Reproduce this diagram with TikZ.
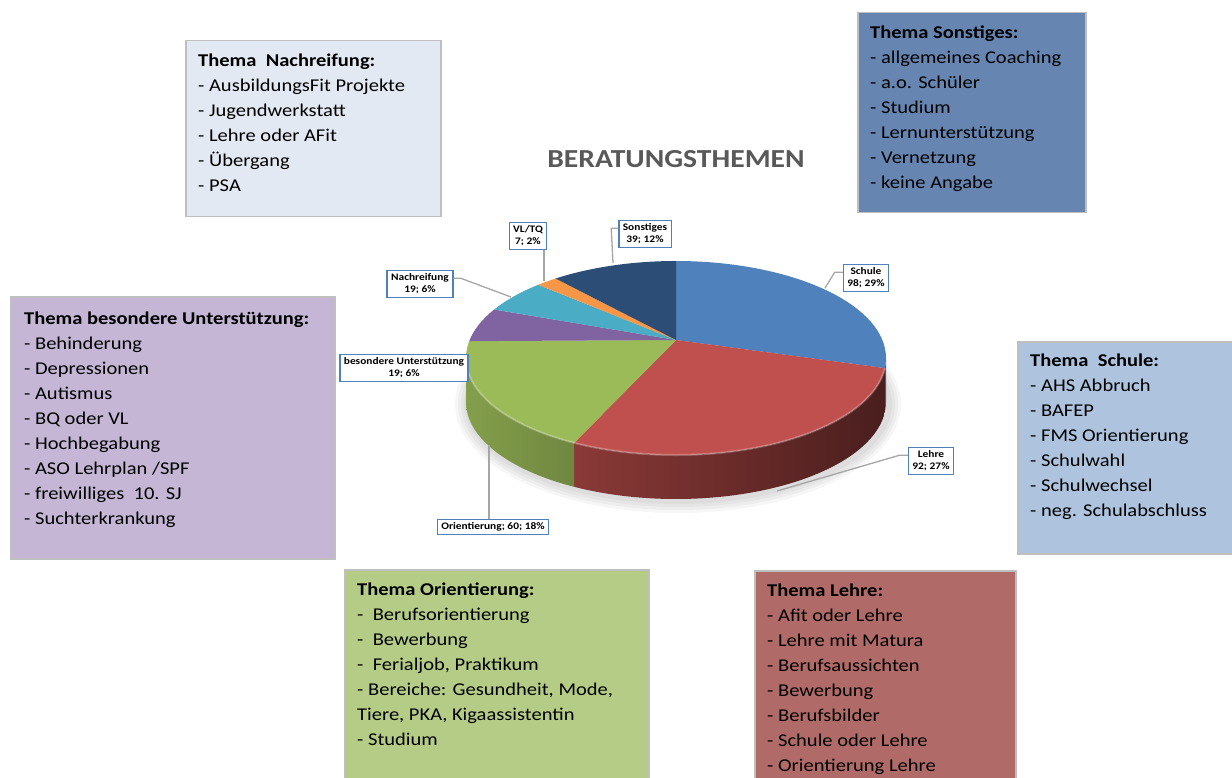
\documentclass[tikz,border=0pt]{standalone}
\usepackage{fontspec}
\setmainfont{Carlito}[FakeStretch=1.14]
\definecolor{pieschule}{HTML}{4F81BD}
\definecolor{pielehre}{HTML}{C0504D}
\definecolor{pieorient}{HTML}{9BBB59}
\definecolor{piebes}{HTML}{8064A2}
\definecolor{pienach}{HTML}{4BACC6}
\definecolor{pievl}{HTML}{F79646}
\definecolor{piesonst}{HTML}{2C4D75}
\definecolor{lblblue}{HTML}{4F81BD}
\definecolor{leadgray}{HTML}{A6A6A6}
\definecolor{boxgray}{HTML}{BFBFBF}
\definecolor{titlegray}{HTML}{595959}
\definecolor{nachfill}{HTML}{E3E9F3}
\definecolor{sonstfill}{HTML}{6685B1}
\definecolor{besfill}{HTML}{C4B6D4}
\definecolor{schulefill}{HTML}{AEC4DE}
\definecolor{orientfill}{HTML}{B5CC87}
\definecolor{lehrefill}{HTML}{B06B68}
\begin{document}
\begin{tikzpicture}[x=1pt,y=1pt,
    themebox/.style={draw=boxgray,line width=1.5pt,anchor=north west,inner sep=0pt},
    themetext/.style={anchor=north west,inner sep=0pt,align=left,font=\fontsize{18}{25}\selectfont},
    lbl/.style={draw=lblblue,fill=white,line width=1.3pt,align=center,inner xsep=4pt,inner ysep=3pt,
      font=\fontsize{10}{12}\selectfont\bfseries},
    leader/.style={draw=leadgray,line width=1.3pt}]
\useasboundingbox (0,0) rectangle (1232,-778);
% title
\node[font=\fontsize{26}{28}\selectfont\bfseries,text=titlegray] (title) at (676,-159) {BERATUNGSTHEMEN};
% shadow under the pie
\foreach \o in {0,3,6,9}
  \fill[black,opacity=0.035] (678,-404) ellipse [x radius={214pt+\o pt}, y radius={100pt+\o pt}];
% side of the pie
\fill[pieschule!75!black] ([shift={(676,-358)}]0:210pt and 97pt) arc[start angle=0,end angle=-6,x radius=210pt,y radius=97pt]
  -- ++(0,-44) arc[start angle=-6,end angle=0,x radius=210pt,y radius=97pt] -- cycle;
\shade[left color=pielehre!72!black,right color=pielehre!38!black] ([shift={(676,-358)}]-6:210pt and 97pt)
  arc[start angle=-6,end angle=-119,x radius=210pt,y radius=97pt]
  -- ++(0,-44) arc[start angle=-119,end angle=-6,x radius=210pt,y radius=97pt] -- cycle;
\shade[left color=pieorient!85!black,right color=pieorient!72!black] ([shift={(676,-358)}]-119:210pt and 97pt)
  arc[start angle=-119,end angle=-180,x radius=210pt,y radius=97pt]
  -- ++(0,-44) arc[start angle=-180,end angle=-119,x radius=210pt,y radius=97pt] -- cycle;
% top of the pie
\foreach \a/\b/\c in {0/96/pieschule,96/209/pielehre,209/280/pieorient,280/300/piebes,300/319/pienach,319/325/pievl,325/360/piesonst}
  {\pgfmathsetmacro\s{90-\a}\pgfmathsetmacro\e{90-\b}
   \fill[\c] (676,-340) -- ([shift={(676,-358)}]\s:210pt and 97pt)
     arc[start angle=\s,end angle=\e,x radius=210pt,y radius=97pt] -- cycle;}
\draw[white,opacity=0.25,line width=2pt] ([shift={(676,-358)}]-6:210pt and 97pt)
  arc[start angle=-6,end angle=-180,x radius=210pt,y radius=97pt];
% data labels
\coordinate (schulept) at (825,-288);
\coordinate (lehrept) at (777,-491);
\coordinate (orientpt) at (489,-445);
\coordinate (nachpt) at (511,-297);
\coordinate (vlpt) at (544,-281);
\coordinate (sonstpt) at (613,-263);
\node[lbl] (schulelbl) at (866,-278) {Schule\\98; 29\%};
\node[lbl] (lehrelbl) at (931,-461) {Lehre\\92; 27\%};
\node[lbl] (orientlbl) at (493,-527) {Orientierung; 60; 18\%};
\node[lbl] (beslbl) at (404,-368) {besondere Unterstützung\\19; 6\%};
\node[lbl] (nachlbl) at (420,-284) {Nachreifung\\19; 6\%};
\node[lbl] (vllbl) at (528,-236) {VL/TQ\\7; 2\%};
\node[lbl] (sonstlbl) at (645,-234) {Sonstiges\\39; 12\%};
\draw[leader] ([yshift=-8pt]schulelbl.north west) -- ++(-8,0) -- (schulept);
\draw[leader] ([yshift=-8pt]lehrelbl.north west) -- ++(-8,0) -- (lehrept);
\draw[leader] (orientpt |- orientlbl.north) -- (orientpt);
\draw[leader] ([yshift=-8pt]nachlbl.north east) -- ++(7,0) -- (nachpt);
\draw[leader] (vlpt |- vllbl.south) -- (vlpt);
\draw[leader] ([yshift=-8pt]sonstlbl.north west) -- ++(-7,0) -- (sonstpt);
% topic boxes
\node[themebox,fill=nachfill,minimum width=255pt,minimum height=176pt] (nachbox) at (185,-40) {};
\node[themetext] (nachtxt) at (198,-54) {\textbf{Thema~~Nachreifung:}\\- AusbildungsFit Projekte\\- Jugendwerkstatt\\- Lehre oder AFit\\- Übergang\\- PSA};
\node[themebox,fill=sonstfill,minimum width=228pt,minimum height=200pt] (sonstbox) at (857,-12) {};
\node[themetext] (sonsttxt) at (870,-26) {\textbf{Thema Sonstiges:}\\- allgemeines Coaching\\- a.o. Schüler\\- Studium\\- Lernunterstützung\\- Vernetzung\\- keine Angabe};
\node[themebox,fill=besfill,minimum width=324pt,minimum height=262pt] (besbox) at (10,-296) {};
\node[themetext] (bestxt) at (24,-312) {\textbf{Thema besondere Unterstützung:}\\- Behinderung\\- Depressionen\\- Autismus\\- BQ oder VL\\- Hochbegabung\\- ASO Lehrplan /SPF\\- freiwilliges~~10. SJ\\- Suchterkrankung};
\node[themebox,fill=schulefill,minimum width=218pt,minimum height=212pt] (schulebox) at (1017,-341) {};
\node[themetext] (schuletxt) at (1030,-354) {\textbf{Thema~~Schule:}\\- AHS Abbruch\\- BAFEP\\- FMS Orientierung\\- Schulwahl\\- Schulwechsel\\- neg. Schulabschluss};
\node[themebox,fill=orientfill,minimum width=304pt,minimum height=215pt] (orientbox) at (344,-569) {};
\node[themetext] (orienttxt) at (357,-583) {\textbf{Thema Orientierung:}\\-~~Berufsorientierung\\-~~Bewerbung\\-~~Ferialjob, Praktikum\\- Bereiche: Gesundheit, Mode,\\Tiere, PKA, Kigaassistentin\\- Studium};
\node[themebox,fill=lehrefill,minimum width=261pt,minimum height=215pt] (lehrebox) at (754,-570) {};
\node[themetext] (lehretxt) at (767,-584) {\textbf{Thema Lehre:}\\- Afit oder Lehre\\- Lehre mit Matura\\- Berufsaussichten\\- Bewerbung\\- Berufsbilder\\- Schule oder Lehre\\- Orientierung Lehre};
\end{tikzpicture}
\end{document}
